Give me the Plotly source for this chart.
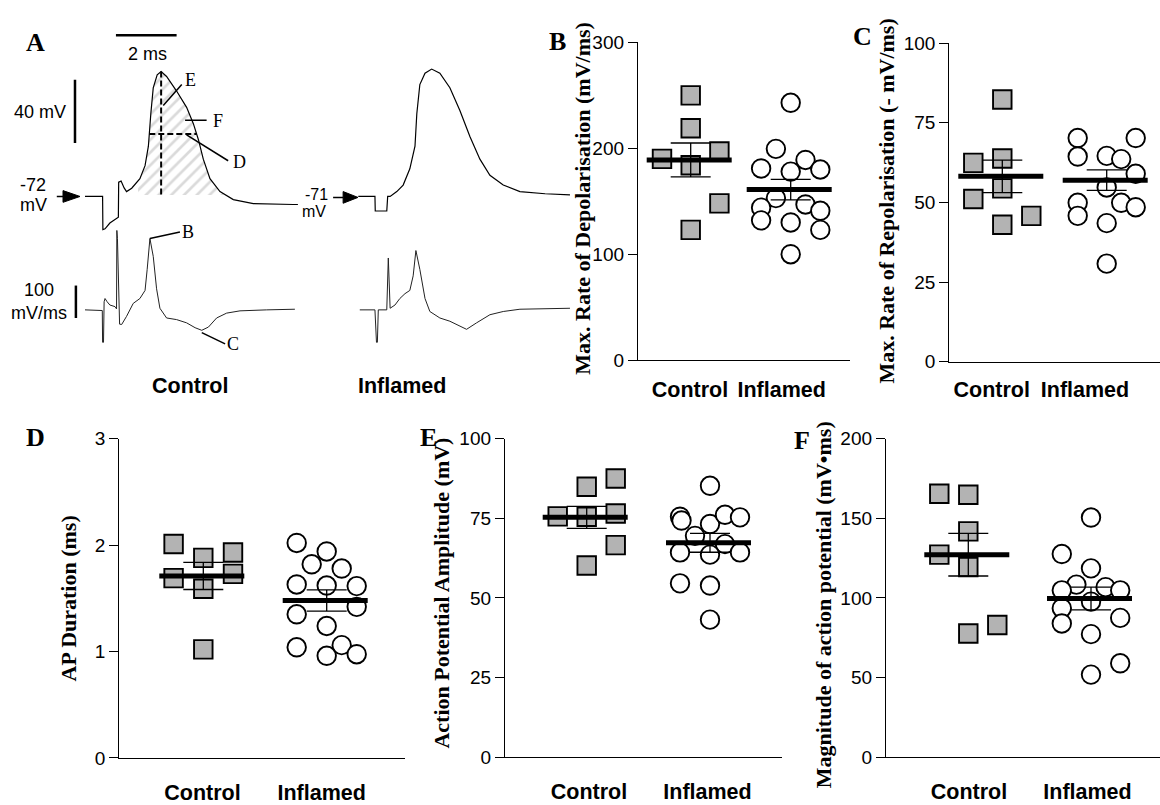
import numpy as np
import plotly.graph_objects as go

W, H = 1160, 805

# ======================= DATA =======================
# Panel A : representative recordings (time in ms, membrane potential in mV, dV/dt in mV/ms)
ctrl_ap_t = [0.00, 0.58, 0.59, 0.66, 0.82, 0.99, 1.10, 1.11, 1.19, 1.29, 1.37, 1.54, 1.81, 1.98, 2.09, 2.17,
             2.25, 2.38, 2.51, 2.69, 3.02, 3.35, 3.57, 3.74, 3.90, 4.12, 4.45, 4.89, 5.55, 6.87, 7.02]
ctrl_ap_v = [-72.0, -72.0, -93.0, -92.5, -88.8, -86.3, -85.1, -63.0, -62.3, -66.6, -68.9, -66.8, -60.7, -52.5,
             -40.2, -19.7, -3.3, 4.9, 7.0, 3.9, -5.3, -15.6, -25.8, -36.1, -48.4, -60.7, -68.9, -74.0, -76.5,
             -77.1, -77.1]
ctrl_rest = -72

infl_ap_t = [0.00, 0.55, 0.56, 0.94, 0.97, 1.05, 1.27, 1.48, 1.70, 1.87, 1.93, 2.03, 2.20, 2.42, 2.69, 3.02,
             3.35, 3.68, 4.01, 4.34, 4.78, 5.33, 6.16, 6.98]
infl_ap_v = [-71.0, -71.0, -80.2, -80.2, -71.0, -71.0, -67.9, -63.8, -53.5, -39.2, -18.7, -0.2, 7.0, 9.6, 7.0,
             -2.2, -16.6, -33.0, -47.4, -57.6, -63.8, -67.9, -69.3, -70.0]
infl_rest = -71

ctrl_dvdt_t = [0.00, 0.49, 0.57, 0.58, 0.61, 0.63, 0.66, 0.73, 0.82, 0.99, 1.04, 1.05, 1.07, 1.14, 1.21, 1.37,
               1.59, 1.81, 1.98, 2.05, 2.14, 2.25, 2.36, 2.47, 2.69, 3.02, 3.35, 3.63, 3.85, 4.07, 4.34, 4.67,
               5.11, 5.99, 6.92]
ctrl_dvdt = [0, -2, -2, -100, -100, 25, 35, 25, 15, 10, 3, 245, 220, -44, -45, -20, 20, 35, 60, 125, 220, 165,
             65, 5, -25, -30, -40, -55, -63, -53, -25, -10, -3, 0, 2]

infl_dvdt_t = [0.05, 0.55, 0.60, 0.63, 0.66, 0.94, 0.99, 1.03, 1.05, 1.21, 1.37, 1.54, 1.70, 1.81, 1.90, 2.03,
               2.20, 2.36, 2.69, 3.02, 3.24, 3.57, 3.90, 4.34, 4.78, 5.33, 6.98]
infl_dvdt = [0, 0, -100, -100, 0, 0, 160, 25, 5, 15, 35, 50, 60, 105, 183, 125, 35, -5, -25, -35, -45, -60,
             -40, -15, -5, 2, 5]

groups = ["Control", "Inflamed"]

# Panel B : max rate of depolarisation (mV/ms)
B_ctrl = [190, 250, 219, 184, 123, 197, 148]
B_infl = [243, 199.5, 181, 178, 189, 180, 153, 144, 147, 141, 132, 130, 123, 100]
B_mean = [189, 161]
B_sem = [16, 9.6]

# Panel C : max rate of repolarisation (- mV/ms)
C_ctrl = [62.4, 82.3, 63.8, 54.4, 51.1, 43.0, 45.8]
C_infl = [70.2, 64.4, 64.6, 63.6, 70.2, 59.0, 54.7, 49.9, 45.8, 49.9, 48.5, 43.5, 30.8]
C_mean = [58.2, 57.0]
C_sem = [5.1, 3.2]

# Panel D : AP duration (ms)
D_ctrl = [2.01, 1.69, 1.88, 1.59, 1.02, 1.93, 1.73]
D_infl = [2.02, 1.94, 1.82, 1.78, 1.63, 1.62, 1.615, 1.35, 1.42, 1.24, 1.04, 1.06, 0.96, 0.975]
D_mean = [1.71, 1.48]
D_sem = [0.127, 0.10]

# Panel E : action potential amplitude (mV)
E_ctrl = [75.6, 84.9, 75.5, 60.2, 87.5, 76.5, 66.6]
E_infl = [85.2, 75.5, 74.3, 73.2, 76.1, 75.3, 69.5, 66.9, 64.3, 63.6, 64.3, 54.6, 53.9, 43.2]
E_mean = [75.3, 67.3]
E_sem = [3.45, 2.95]

# Panel F : magnitude of action potential (mV*ms)
F_ctrl = [165.4, 127.2, 164.8, 141.8, 119.4, 77.7, 83.0]
F_infl = [150.5, 127.6, 118.6, 108.4, 106.8, 104.8, 104.8, 97.7, 93.6, 84.0, 87.5, 77.3, 59.0, 51.9]
F_mean = [127.2, 99.7]
F_sem = [13.4, 7.15]

# ======================= LAYOUT (positions / styles) =======================
# scatter column slots (beeswarm placement) for each point
B_ctrl_col = [-1, 0, 0, 0, 0, 1, 1]
B_infl_col = [0, -1, -2, 0, 1, 2, -1, -2, 1, 2, -2, 0, 2, 0]
C_ctrl_col = [-1, 0, 0, 0, -1, 0, 1]
C_infl_col = [-2, -2, 0, 1, 2, 2, 0, -2, -2, 1, 2, 0, 0]
D_ctrl_col = [-1, -1, 0, 0, 0, 1, 1]
D_infl_col = [-2, 0, -1, 1, -2, 0, 2, -2, 2, 0, -2, 1, 0, 2]
E_ctrl_col = [-1, 0, 0, 0, 1, 1, 1]
E_infl_col = [0, -2, -1.9, 0, 1, 2, -1, 1, -2, 0, 2, -2, 0, 0]
F_ctrl_col = [-1, -1, 0, 0, 0, 0, 1]
F_infl_col = [0, -2, 0, -1, 1, -2, 2, 0, -2, -2, 2, 0, 2, 0]

SANS = "Liberation Sans, Arial, sans-serif"
SERIF = "Liberation Serif, Times New Roman, serif"

panels = [
    dict(ctrl=B_ctrl, ccol=B_ctrl_col, infl=B_infl, icol=B_infl_col, mean=B_mean, sem=B_sem, ymax=300, dtick=100,
         xl=638, xr=850, y0=360, yt=33.3, cc=690.7, ci=790.7, sc=28.7, si=14.8, lab=(690, 781.7), stand=10,
         title="Max. Rate of Depolarisation (mV/ms)", txy=(583, 194), letter="B", lxy=(557, 32)),
    dict(ctrl=C_ctrl, ccol=C_ctrl_col, infl=C_infl, icol=C_infl_col, mean=C_mean, sem=C_sem, ymax=100, dtick=25,
         xl=949.3, xr=1160, y0=361.7, yt=34, cc=1002.3, ci=1106.7, sc=29, si=14.5, lab=(991.7, 1085), stand=8,
         title="Max. Rate of Repolarisation (- mV/ms)", txy=(887, 197), letter="C", lxy=(862, 27)),
    dict(ctrl=D_ctrl, ccol=D_ctrl_col, infl=D_infl, icol=D_infl_col, mean=D_mean, sem=D_sem, ymax=3, dtick=1,
         xl=119.3, xr=405, y0=769, yt=440.7, cc=203.3, ci=326.7, sc=29.7, si=15, lab=(202.5, 321.7), stand=15,
         title="AP Duration (ms)", txy=(68, 605), letter="D", lxy=(35, 440)),
    dict(ctrl=E_ctrl, ccol=E_ctrl_col, infl=E_infl, icol=E_infl_col, mean=E_mean, sem=E_sem, ymax=100, dtick=25,
         xl=505, xr=782, y0=768.3, yt=440.7, cc=586.7, ci=710, sc=29, si=15, lab=(589, 707.5), stand=15,
         title="Action Potential Amplitude (mV)", txy=(442, 600), letter="E", lxy=(428, 440)),
    dict(ctrl=F_ctrl, ccol=F_ctrl_col, infl=F_infl, icol=F_infl_col, mean=F_mean, sem=F_sem, ymax=200, dtick=50,
         xl=886, xr=1160, y0=768.3, yt=440.7, cc=968.3, ci=1091, sc=29, si=14.6, lab=(969, 1087.5), stand=15,
         title="Magnitude of action potential (mV\u2022ms)", txy=(823, 612), letter="F", lxy=(802, 443)),
]


def fx(px):
    return px / W


def fy(py):
    return 1 - py / H


fig = go.Figure()
layout = dict(width=W, height=H, margin=dict(l=0, r=0, t=0, b=0), paper_bgcolor="white",
              plot_bgcolor="rgba(0,0,0,0)", showlegend=False)
annotations = []
shapes = []

# ---------------- scatter panels B-F ----------------
for i, p in enumerate(panels, start=1):
    xa = "x" if i == 1 else f"x{i}"
    ya = "y" if i == 1 else f"y{i}"
    unit = p["ci"] - p["cc"]
    xr = [(p["xl"] - p["cc"]) / unit, (p["xr"] - p["cc"]) / unit]
    xc = [0 + c * p["sc"] / unit for c in p["ccol"]]
    xi = [1 + c * p["si"] / unit for c in p["icol"]]
    fig.add_trace(go.Scatter(x=xc, y=p["ctrl"], mode="markers", xaxis=xa, yaxis=ya,
                             marker=dict(symbol="square", size=18.5, color="#b3b3b3",
                                         line=dict(color="black", width=1.9))))
    fig.add_trace(go.Scatter(x=xi, y=p["infl"], mode="markers", xaxis=xa, yaxis=ya,
                             marker=dict(symbol="circle", size=18.5, color="white",
                                         line=dict(color="black", width=1.9))))
    for g in range(2):
        m = p["mean"][g]
        fig.add_trace(go.Scatter(x=[g - 44 / unit, g + 41 / unit], y=[m, m], mode="lines", xaxis=xa, yaxis=ya,
                                 line=dict(color="black", width=5)))
        fig.add_trace(go.Scatter(x=[g], y=[m], mode="markers", xaxis=xa, yaxis=ya,
                                 marker=dict(size=1, color="rgba(0,0,0,0)"),
                                 error_y=dict(type="data", array=[p["sem"][g]], color="black",
                                              thickness=1.3, width=20)))
    labpos = [(p["lab"][0] - p["cc"]) / unit, (p["lab"][1] - p["cc"]) / unit]
    layout["xaxis" if i == 1 else f"xaxis{i}"] = dict(
        domain=[fx(p["xl"]), min(1.0, fx(p["xr"]))], range=xr, anchor=ya, showline=True, linecolor="black",
        linewidth=1.3, ticks="", tickvals=labpos, ticktext=groups, showgrid=False, zeroline=False,
        tickfont=dict(family=SANS, size=21.5, color="black", weight="bold"), ticklabelstandoff=p["stand"],
        fixedrange=True)
    layout["yaxis" if i == 1 else f"yaxis{i}"] = dict(
        domain=[fy(p["y0"]), fy(p["yt"])], range=[0, p["ymax"]], anchor=xa, showline=True, linecolor="black",
        linewidth=1.3, ticks="outside", ticklen=9, tickwidth=1.3, tickcolor="black", tickmode="linear",
        tick0=0, dtick=p["dtick"], showgrid=False, zeroline=False,
        tickfont=dict(family=SANS, size=19, color="black"), fixedrange=True)
    annotations.append(dict(text=p["title"], xref="paper", yref="paper", x=fx(p["txy"][0]), y=fy(p["txy"][1]),
                            textangle=-90, showarrow=False, xanchor="center", yanchor="middle",
                            font=dict(family=SERIF, size=22, color="black", weight="bold")))
    annotations.append(dict(text=p["letter"], xref="paper", yref="paper", x=fx(p["lxy"][0]), y=fy(p["lxy"][1]),
                            showarrow=False, xanchor="center", yanchor="middle",
                            font=dict(family=SERIF, size=26, color="black", weight="bold")))

# ---------------- panel A : traces ----------------
# pixel geometry of panel A (layout only)
A_T_OFF = 85 / 30.33          # ms between panel left edge and trace start
A_MS_PX = 30.33               # px per ms
A_MV_PX = 1.625               # px per mV
A_DV_PX = 1 / 3.0             # px per (mV/ms)
INF_T_SHIFT = 9.01            # horizontal placement of the inflamed traces (ms)
INF_V_SHIFT = ctrl_rest - infl_rest

layout["xaxis6"] = dict(domain=[0, fx(575)], range=[-A_T_OFF, (575 - 85) / A_MS_PX], anchor="y6",
                        visible=False, fixedrange=True)
layout["yaxis6"] = dict(domain=[fy(250), 1.0],
                        range=[ctrl_rest - (250 - 191.7) / A_MV_PX, ctrl_rest + 191.7 / A_MV_PX],
                        anchor="x6", visible=False, fixedrange=True)
layout["yaxis7"] = dict(domain=[fy(400), fy(200)],
                        range=[-(400 - 308.3) / A_DV_PX, (308.3 - 200) / A_DV_PX],
                        anchor="x6", visible=False, fixedrange=True)

# hatched area (AP area above threshold)
t_arr = np.array(ctrl_ap_t)
v_arr = np.array(ctrl_ap_v)
h0, h1 = 1.75, 4.56
base = ctrl_rest + 1
sel = (t_arr > h0) & (t_arr < h1)
poly_t = [h0, h0] + list(t_arr[sel]) + [h1, h1]
poly_v = [base, float(np.interp(h0, t_arr, v_arr))] + list(v_arr[sel]) + [float(np.interp(h1, t_arr, v_arr)), base]
fig.add_trace(go.Scatter(x=poly_t, y=poly_v, xaxis="x6", yaxis="y6", mode="lines", fill="toself",
                         fillcolor="rgba(0,0,0,0)", line=dict(width=0),
                         fillpattern=dict(shape="/", fgcolor="#b5b5b5", bgcolor="rgba(0,0,0,0)", size=9,
                                          solidity=0.3)))

fig.add_trace(go.Scatter(x=ctrl_ap_t, y=ctrl_ap_v, xaxis="x6", yaxis="y6", mode="lines",
                         line=dict(color="black", width=1.2)))
fig.add_trace(go.Scatter(x=[t + INF_T_SHIFT for t in infl_ap_t], y=[v + INF_V_SHIFT for v in infl_ap_v],
                         xaxis="x6", yaxis="y6", mode="lines", line=dict(color="black", width=1.2)))
fig.add_trace(go.Scatter(x=ctrl_dvdt_t, y=ctrl_dvdt, xaxis="x6", yaxis="y7", mode="lines",
                         line=dict(color="#222", width=1)))
fig.add_trace(go.Scatter(x=[t + INF_T_SHIFT for t in infl_dvdt_t], y=infl_dvdt, xaxis="x6", yaxis="y7",
                         mode="lines", line=dict(color="#222", width=1)))

# measurement guides: peak (E) and half-amplitude width (D)
ipk = int(np.argmax(v_arr))
t_pk, v_pk = float(t_arr[ipk]), float(v_arr[ipk])
half = (v_pk + ctrl_rest) / 2
t_rise = float(np.interp(half, v_arr[ipk - 5:ipk + 1], t_arr[ipk - 5:ipk + 1]))
t_fall = float(np.interp(half, v_arr[ipk:ipk + 8][::-1], t_arr[ipk:ipk + 8][::-1]))
dash = dict(color="black", width=2, dash="6px,3px")
shapes.append(dict(type="line", xref="x6", yref="y6", x0=t_pk, x1=t_pk, y0=v_pk, y1=base, line=dash))
shapes.append(dict(type="line", xref="x6", yref="y6", x0=t_rise, x1=t_fall, y0=half, y1=half, line=dash))

# scale bars
bar = dict(color="black", width=2.5)
shapes.append(dict(type="line", xref="x6", yref="y6", x0=1.02, x1=3.02, y0=30, y1=30, line=bar))
shapes.append(dict(type="line", xref="x6", yref="y6", x0=-0.33, x1=-0.33, y0=-38.2, y1=1.8, line=bar))
shapes.append(dict(type="line", xref="x6", yref="y7", x0=-0.30, x1=-0.30, y0=-25, y1=75, line=bar))

# resting-potential arrows
for (t0, tb, tt, vv) in [(-0.93, -0.725, -0.165, -72.0), (8.18, 8.51, 9.0, -72.6)]:
    shapes.append(dict(type="line", xref="x6", yref="y6", x0=t0, x1=tb, y0=vv, y1=vv,
                       line=dict(color="black", width=1.5)))
    shapes.append(dict(type="path", xref="x6", yref="y6",
                       path=f"M {tb},{vv + 3.7} L {tt},{vv} L {tb},{vv - 3.7} Z",
                       fillcolor="black", line=dict(color="black", width=1)))

# label pointer lines
thin = dict(color="black", width=1.5)
for (x0, y0, x1, y1, yr) in [(2.58, -14.5, 3.19, -1.2, "y6"), (3.30, -23.8, 4.01, -23.8, "y6"),
                             (3.35, -33.0, 4.72, -49.4, "y6"), (2.14, 220, 3.13, 240, "y7"),
                             (3.85, -70, 4.62, -105, "y7")]:
    shapes.append(dict(type="line", xref="x6", yref=yr, x0=x0, x1=x1, y0=y0, y1=y1, line=thin))

for (txt, x, y, yr) in [("E", 3.49, 1.8, "y6"), ("F", 4.39, -24.2, "y6"), ("D", 5.08, -50.0, "y6"),
                        ("B", 3.41, 240, "y7"), ("C", 4.89, -105, "y7")]:
    annotations.append(dict(text=txt, xref="x6", yref=yr, x=x, y=y, showarrow=False, xanchor="center",
                            yanchor="middle", font=dict(family=SERIF, size=18, color="black")))

for (txt, x, y, yr, xan, fs) in [("2 ms", 2.05, 18.3, "y6", "center", 18),
                                 ("40 mV", -0.56, -18.6, "y6", "right", 18),
                                 ("-72", -1.73, -64.8, "y6", "center", 18), ("mV", -1.71, -77.7, "y6", "center", 18),
                                 ("-71", 7.62, -70.6, "y6", "center", 16), ("mV", 7.55, -81.2, "y6", "center", 16),
                                 ("100", -1.52, 60, "y7", "center", 18), ("mV/ms", -1.52, -10, "y7", "center", 18)]:
    annotations.append(dict(text=txt, xref="x6", yref=yr, x=x, y=y, showarrow=False, xanchor=xan,
                            yanchor="middle", font=dict(family=SANS, size=fs, color="black")))

for (txt, px, py) in [("Control", 190, 387), ("Inflamed", 402, 387)]:
    annotations.append(dict(text=txt, xref="paper", yref="paper", x=fx(px), y=fy(py), showarrow=False,
                            xanchor="center", yanchor="middle",
                            font=dict(family=SANS, size=21.5, color="black", weight="bold")))
annotations.append(dict(text="A", xref="paper", yref="paper", x=fx(35), y=fy(33), showarrow=False,
                        xanchor="center", yanchor="middle",
                        font=dict(family=SERIF, size=26, color="black", weight="bold")))

layout["annotations"] = annotations
layout["shapes"] = shapes
fig.update_layout(**layout)
fig.write_html("out.html")
